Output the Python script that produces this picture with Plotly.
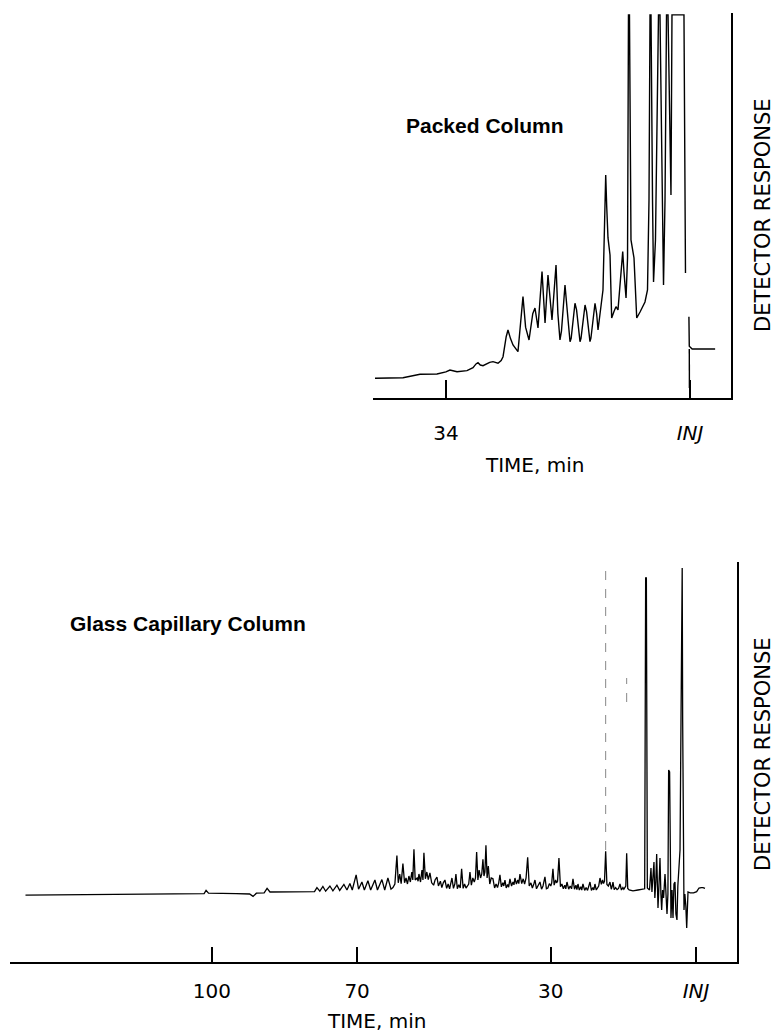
import plotly.graph_objects as go

W, H = 778, 1035

# ---------------- Packed column (top) ----------------
top_time = [43.87, 41.5, 39.97, 37.60, 36.4, 35.24, 34.0, 33.43, 32.45, 31.06, 30.22, 29.8, 29.53,
            29.2, 28.83, 27.9, 27.44, 26.74, 26.3, 26.04, 25.6, 25.35, 25.0, 24.65, 23.96, 23.5,
            23.26, 22.9, 22.42, 21.9, 21.59, 21.17, 20.8, 20.61, 20.19, 19.9, 19.78, 19.22, 18.8,
            18.66, 18.4, 18.11, 17.9, 17.5, 17.41, 17.2, 16.85, 16.71, 16.55, 16.1, 16.02, 15.8,
            15.45, 15.32, 15.18, 14.7, 14.62, 14.4, 14.05, 13.93, 13.8, 13.3, 13.23, 13.0, 12.81,
            12.12, 11.85, 11.74, 11.6, 11.42, 11.14, 10.91, 10.6, 10.31, 10.03, 9.6, 9.37, 9.2,
            8.91, 8.70, 8.57, 8.43, 8.22, 7.80, 7.42, 6.96, 6.27, 5.92, 5.71, 5.57, 5.43, 5.22,
            5.08, 4.81, 4.39, 4.18, 3.90, 3.69, 3.48, 3.27, 3.06, 2.86, 2.65, 2.51, 0.84, 0.63]
top_resp = [5.14, 5.2, 5.30, 6.19, 6.2, 6.27, 6.8, 7.31, 6.87, 7.13, 7.91, 8.9, 9.22,
            8.6, 8.43, 9.3, 9.48, 9.06, 9.8, 10.78, 16.0, 17.75, 15.5, 13.84, 12.09, 21.0,
            26.45, 18.5, 15.14, 22.0, 23.50, 18.28, 28.0, 32.98, 19.58, 29.0, 32.11, 20.37, 31.0,
            34.73, 22.0, 15.14, 17.5, 28.0, 29.50, 25.0, 15.8, 14.70, 15.6, 23.8, 24.73, 23.0,
            15.8, 14.70, 15.6, 23.5, 24.28, 22.5, 15.8, 14.70, 15.6, 24.0, 24.73, 22.0, 17.75,
            28.20, 50.0, 58.22, 50.0, 41.78, 37.34, 20.89, 22.5, 23.84, 22.98, 33.0, 38.20, 33.0,
            26.11, 36.55, 100, 100, 41.25, 36.55, 20.89, 22.45, 25.07, 28.20, 51.70, 100, 100, 51.70,
            30.29, 41.25, 100, 100, 64.75, 29.50, 51.70, 100, 100, 72.58, 53.00, 100, 100, 32.64]

top_inj_time = [0.15, 0.10, -0.30, -3.50, None, 0.10, 0.08]
top_inj_resp = [21.2, 13.5, 12.8, 12.8, None, 12.8, 2.6]

top_tickvals = [34, 0]
top_ticktext = ["34", "<i>INJ</i>"]

# ---------------- Glass capillary column (bottom), read left to right ----------------
bot_time_a = [138.5, 128, 118, 108, 101.6, 101.2, 100.7, 95, 92.2, 91.5, 90.8, 89.2, 88.6, 88.0,
              84, 80, 78.8, 78.3, 77.7, 77.07, 76.5, 75.62, 75.0, 74.17, 73.6, 72.73, 72.1,
              71.49, 71.0, 70.2, 69.7, 69.01, 68.5, 67.77, 67.2, 66.32, 65.8, 64.88, 64.3, 63.64, 63.0]
bot_resp_a = [16.7, 16.8, 16.9, 17.0, 17.1, 17.9, 17.2, 17.1, 17.0, 16.4, 17.2, 17.3, 18.4, 17.5,
              17.5, 17.6, 17.6, 18.6, 17.7, 18.9, 17.7, 19.0, 17.8, 19.2, 17.9, 19.4, 18.0,
              19.6, 18.0, 21.8, 18.2, 20.0, 18.0, 20.3, 18.0, 20.5, 18.0, 20.6, 18.0, 21.0, 18.2]

bot_time_b = [62.6, 62.2, 61.78, 61.5, 61.2, 60.9, 60.54, 60.2, 59.9, 59.6, 59.30, 59.0, 58.7, 58.5,
              58.26, 58.0, 57.6, 57.4, 57.23, 56.9, 56.6, 56.4, 56.20, 55.9, 55.6, 55.3, 54.96, 54.6]
bot_resp_b = [18.6, 19.5, 26.6, 19.8, 22.0, 19.6, 24.6, 19.8, 21.0, 19.5, 21.5, 20.0, 22.5, 20.5,
              28.2, 20.5, 21.0, 20.2, 22.0, 20.0, 23.0, 20.5, 27.3, 20.8, 22.5, 20.6, 22.3, 19.8]

bot_time_c = [54.2, 53.9, 53.51, 53.2, 52.8, 52.5, 52.2, 51.86, 51.5, 51.2, 50.9, 50.41, 50.1, 49.8,
              49.59, 49.3, 49.0, 48.7, 48.41, 48.1, 47.8, 47.5]
bot_resp_c = [19.2, 20.5, 21.2, 19.0, 20.2, 18.6, 19.8, 20.5, 18.4, 19.5, 18.3, 21.0, 18.4, 19.6,
              22.0, 18.3, 19.3, 18.5, 23.3, 18.4, 19.5, 18.5]

bot_time_d = [47.2, 46.95, 46.69, 46.4, 46.1, 45.8, 45.55, 45.31, 45.05, 44.8, 44.5, 44.25, 44.01,
              43.8, 43.6, 43.39, 43.15, 42.9, 42.6, 42.3]
bot_resp_d = [19.0, 19.5, 22.5, 19.2, 21.0, 20.0, 21.0, 27.5, 20.5, 23.0, 21.0, 22.0, 25.7,
              21.5, 22.5, 29.2, 21.0, 24.0, 19.5, 21.0]

bot_time_e = [41.94, 41.6, 41.3, 41.0, 40.75, 40.50, 40.2, 39.9, 39.7, 39.46, 39.2, 38.9, 38.7,
              38.43, 38.1, 37.8, 37.6, 37.40, 37.1, 36.8, 36.6, 36.36, 36.0, 35.7, 35.4, 35.1,
              34.77, 34.45, 34.1, 33.8, 33.5, 33.26, 32.95, 32.6, 32.23, 31.9, 31.6, 31.20, 30.9]
bot_resp_e = [20.8, 18.5, 19.5, 18.6, 19.8, 21.8, 18.8, 19.8, 19.0, 20.5, 18.5, 19.4, 18.7,
              20.8, 19.0, 20.0, 19.3, 21.0, 19.5, 20.5, 19.6, 22.0, 19.6, 20.8, 19.5, 21.0,
              26.2, 19.0, 19.8, 18.5, 19.5, 20.5, 18.3, 19.0, 20.0, 18.2, 19.0, 21.3, 18.3]

bot_time_f = [30.6, 30.3, 30.0, 29.8, 29.55, 29.3, 29.0, 28.8, 28.6, 28.31, 28.0, 27.7, 27.4,
              27.1, 26.9, 26.65, 26.3, 26.0, 25.7, 25.41, 25.1, 24.8, 24.6, 24.38, 24.1, 23.8,
              23.6, 23.35, 23.0, 22.7, 22.4, 22.2, 21.90, 21.6, 21.3, 21.1, 20.87, 20.6, 20.3]
bot_resp_f = [18.5, 19.6, 19.0, 19.8, 23.3, 19.2, 20.5, 19.8, 20.2, 26.0, 18.8, 19.5, 18.3,
              19.2, 18.3, 20.0, 18.2, 19.0, 18.3, 20.8, 18.2, 19.2, 18.1, 19.5, 18.0, 18.8,
              18.0, 19.5, 17.9, 18.6, 17.9, 18.8, 20.0, 17.9, 18.6, 18.0, 19.5, 18.0, 18.8]

bot_time_g = [20.1, 19.83, 19.55, 19.3, 19.1, 18.9, 18.66, 18.4, 18.1, 17.77, 17.5, 17.3, 17.15,
              16.9, 16.6, 16.3, 16.0, 15.70, 15.4, 15.1, 14.9, 14.7, 14.5, 14.32, 14.1, 13.8,
              13.02, 12.0, 11.0, 10.6]
bot_resp_g = [19.0, 21.0, 19.4, 20.5, 19.6, 20.2, 27.7, 19.4, 19.0, 20.0, 18.2, 19.0, 20.0,
              18.1, 18.6, 18.1, 18.4, 19.5, 18.0, 18.6, 18.2, 18.6, 19.0, 27.2, 18.4, 18.0,
              17.8, 18.0, 18.2, 18.3]

bot_time_h = [10.4, 10.25, 10.05, 9.6, 9.30, 9.1, 8.85, 8.68, 8.5, 8.3, 8.12, 7.95, 7.85, 7.65,
              7.44, 7.25, 7.09, 6.9, 6.7, 6.40, 6.2, 5.99, 5.8, 5.65, 5.45, 5.3, 5.17, 4.95,
              4.75, 4.55, 4.34, 4.15, 3.93, 3.75, 3.51, 3.3, 3.1, 3.0, 2.85, 2.75, 2.60, 2.48,
              2.3, 2.1, 1.92, 1.75, 1.65, 1.2, 0.5, -0.14, -0.62, -1.1, -1.45, -1.86]
bot_resp_h = [96.0, 96.0, 18.5, 18.0, 23.5, 17.5, 22.0, 25.0, 16.0, 20.0, 27.0, 15.0, 13.5, 19.0,
              26.0, 17.0, 13.0, 18.0, 16.0, 22.0, 15.0, 12.0, 17.0, 48.0, 47.5, 16.0, 11.0, 18.0,
              11.0, 19.5, 20.0, 12.0, 10.5, 19.0, 23.0, 28.0, 60.0, 98.5, 98.5, 60.0, 30.0, 13.0,
              17.0, 14.0, 8.5, 15.0, 17.5, 17.3, 17.3, 17.6, 18.5, 18.6, 18.6, 18.4]

bot_time = bot_time_a + bot_time_b + bot_time_c + bot_time_d + bot_time_e + bot_time_f + bot_time_g + bot_time_h
bot_resp = bot_resp_a + bot_resp_b + bot_resp_c + bot_resp_d + bot_resp_e + bot_resp_f + bot_resp_g + bot_resp_h

# faint (pen-skipped) parts of two fast peaks
faint_time = [18.66, 18.66, None, 14.32, 14.32]
faint_resp = [28.0, 98.0, None, 65.0, 71.0]

bot_tickvals = [100, 70, 30, 0]
bot_ticktext = ["100", "70", "30", "<i>INJ</i>"]

# ---------------- layout helpers (pixel -> paper) ----------------
def px(x):
    return x / W

def py(y):
    return 1 - y / H

FONT = "DejaVu Sans, Arial, sans-serif"
BOLD = "Liberation Sans, Arial, sans-serif"

fig = go.Figure()
fig.add_trace(go.Scatter(x=top_time, y=top_resp, mode="lines", line=dict(color="black", width=1.4),
                         xaxis="x", yaxis="y", showlegend=False, hoverinfo="skip"))
fig.add_trace(go.Scatter(x=top_inj_time, y=top_inj_resp, mode="lines", line=dict(color="black", width=1.4),
                         xaxis="x", yaxis="y", showlegend=False, hoverinfo="skip"))
fig.add_trace(go.Scatter(x=bot_time, y=bot_resp, mode="lines", line=dict(color="black", width=1.3),
                         xaxis="x2", yaxis="y2", showlegend=False, hoverinfo="skip"))
fig.add_trace(go.Scatter(x=faint_time, y=faint_resp, mode="lines",
                         line=dict(color="#888888", width=1, dash="dash"),
                         xaxis="x2", yaxis="y2", showlegend=False, hoverinfo="skip"))

axis_common = dict(showgrid=False, zeroline=False, showline=True, linecolor="black",
                   linewidth=1.6, ticks="inside", tickcolor="black", tickwidth=1.6,
                   tickfont=dict(family=FONT, size=20, color="black"), tickmode="array")

fig.update_layout(
    width=W, height=H, margin=dict(l=0, r=0, t=0, b=0),
    paper_bgcolor="white", plot_bgcolor="white", showlegend=False,
    xaxis=dict(domain=[px(373), px(731)], range=[44.15, -5.71], anchor="y",
               tickvals=top_tickvals, ticktext=top_ticktext, ticklen=18,
               ticklabelstandoff=16, **axis_common),
    yaxis=dict(domain=[py(398), py(13)], range=[0, 100.5], anchor="x", side="right",
               showgrid=False, zeroline=False, showline=True, linecolor="black",
               linewidth=1.6, showticklabels=False, ticks=""),
    xaxis2=dict(domain=[px(10), px(737)], range=[141.7, -8.47], anchor="y2",
                tickvals=bot_tickvals, ticktext=bot_ticktext, ticklen=15,
                ticklabelstandoff=10, **axis_common),
    yaxis2=dict(domain=[py(962), py(562)], range=[0, 100], anchor="x2", side="right",
                showgrid=False, zeroline=False, showline=True, linecolor="black",
                linewidth=1.6, showticklabels=False, ticks=""),
)

ann = [
    dict(text="<b>Packed Column</b>", x=px(485), y=py(126), font=dict(family=BOLD, size=21)),
    dict(text="<b>Glass Capillary Column</b>", x=px(188), y=py(623), font=dict(family=BOLD, size=21)),
    dict(text="TIME, min", x=px(534), y=py(465), font=dict(family=FONT, size=20)),
    dict(text="TIME, min", x=px(376), y=py(1021), font=dict(family=FONT, size=20)),
    dict(text="DETECTOR RESPONSE", x=px(763), y=py(215), textangle=-90, font=dict(family=FONT, size=21)),
    dict(text="DETECTOR RESPONSE", x=px(763), y=py(754), textangle=-90, font=dict(family=FONT, size=21)),
]
for a in ann:
    a["font"]["color"] = "black"
    fig.add_annotation(xref="paper", yref="paper", showarrow=False,
                       xanchor="center", yanchor="middle", **a)

fig.write_html("out.html")
